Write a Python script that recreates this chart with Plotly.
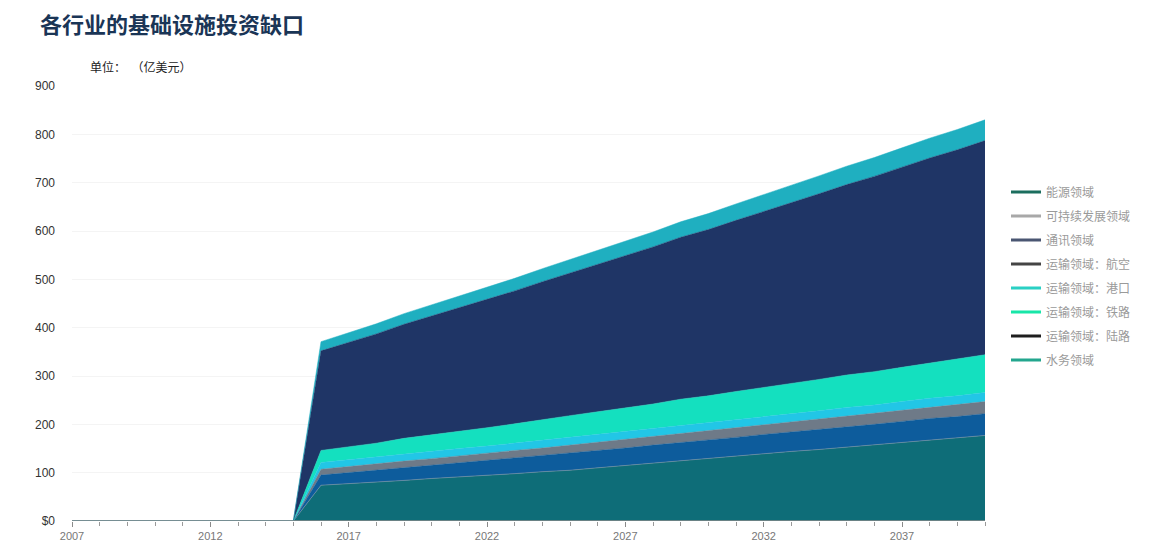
import plotly.graph_objects as go

years = list(range(2007, 2041))
zeros = [0] * 9  # 2007-2015

series_names = ["能源领域", "可持续发展领域", "通讯领域", "运输领域：航空",
                "运输领域：港口", "运输领域：铁路", "运输领域：陆路", "水务领域"]

energy = zeros + [74, 77, 81, 84, 88, 91, 95, 98, 102, 105, 110, 115, 120, 124, 129, 134, 139, 144, 148, 153, 158, 163, 168, 172, 177]
sustain = zeros + [0] * 25
telecom = zeros + [21, 23, 24, 26, 27, 29, 30, 32, 33, 35, 36, 36, 37, 38, 38, 39, 40, 40, 41, 42, 42, 43, 44, 44, 45]
airport = zeros + [12, 13, 13, 14, 14, 15, 15, 16, 16, 17, 17, 18, 18, 19, 19, 20, 20, 21, 21, 22, 22, 23, 23, 24, 25]
port = zeros + [14, 14, 14, 15, 15, 15, 15, 15, 16, 16, 16, 16, 16, 17, 17, 17, 17, 17, 18, 18, 18, 18, 19, 19, 19]
rail = zeros + [25, 27, 29, 32, 34, 36, 38, 40, 43, 45, 47, 49, 51, 54, 56, 58, 60, 62, 65, 67, 69, 71, 73, 76, 78]
road = zeros + [206, 216, 226, 236, 246, 255, 265, 275, 285, 295, 305, 315, 325, 335, 344, 354, 364, 374, 384, 394, 404, 414, 424, 433, 443]
water = zeros + [19, 20, 21, 22, 23, 24, 25, 26, 27, 28, 29, 30, 31, 32, 33, 34, 35, 36, 37, 38, 39, 40, 41, 42, 43]

y_tickvals = [0, 100, 200, 300, 400, 500, 600, 700, 800, 900]
y_ticktext = ["$0", "100", "200", "300", "400", "500", "600", "700", "800", "900"]

series_values = [energy, sustain, telecom, airport, port, rail, road, water]
fill_colors = ["#0e6d78", "#9aa0a8", "#0d5c9c", "#6e7a88", "#22c6e6", "#14e0bf", "#1f3566", "#1fafc0"]
legend_colors = ["#1b6e5e", "#a8a8a8", "#4a5672", "#444444", "#2ad0c4", "#18e6a8", "#1e1e1e", "#23a68e"]

W, H = 1158, 546  # page has an 8px body margin
L, R, T, B = 64, 181, 78, 31

fig = go.Figure()
for name, vals, fc in zip(series_names, series_values, fill_colors):
    fig.add_trace(go.Scatter(
        x=years, y=vals, name=name, stackgroup="one", mode="lines",
        line=dict(width=0.5, color=fc), fillcolor=fc, showlegend=False,
        hovertemplate="%{x}: %{y}<extra>" + name + "</extra>"))

# baseline line from 2007
fig.add_trace(go.Scatter(x=years, y=[0] * len(years), mode="lines",
                         line=dict(color="#8a8a8a", width=1.5), showlegend=False, hoverinfo="skip"))

for i, (name, lc) in enumerate(zip(series_names, legend_colors)):
    fig.add_trace(go.Scatter(
        x=[None], y=[None], mode="lines", name=name, legendgroup=f"g{i}",
        line=dict(color=lc, width=3)))

pw = W - L - R
ph = H - T - B

fig.update_layout(
    width=W, height=H,
    margin=dict(l=L, r=R, t=T, b=B),
    paper_bgcolor="white", plot_bgcolor="white",
    font=dict(family="Noto Sans CJK SC, Noto Sans, sans-serif", color="#333"),
    legend=dict(x=(1040 - 8 - L - 34) / pw, y=(515 - 170) / ph, xanchor="left", yanchor="top",
                traceorder="grouped", tracegroupgap=5,
                font=dict(size=12, color="#9a9a9a"), itemwidth=30),
    showlegend=True,
)

# title
fig.add_annotation(text="<b>各行业的基础设施投资缺口</b>", xref="paper", yref="paper",
                   x=(30 - L) / pw, y=(515 - 15) / ph, xanchor="left", yanchor="middle",
                   showarrow=False, font=dict(size=22, color="#1a3556", family="Noto Sans CJK SC"))

fig.add_annotation(text="单位：  （亿美元）", xref="paper", yref="paper",
                   x=(80 - L) / pw, y=(515 - 58) / ph, xanchor="left", yanchor="middle",
                   showarrow=False, font=dict(size=12, color="#222"))

fig.update_xaxes(range=[2007, 2040], tick0=2007, dtick=5, ticks="outside", ticklen=5,
                 tickcolor="#8a8a8a", showgrid=False, zeroline=False,
                 tickfont=dict(size=11, color="#777", family="Liberation Sans, Arial"), showline=False,
                 minor=dict(dtick=1, ticks="outside", ticklen=4, tickcolor="#9a9a9a"))
fig.update_yaxes(range=[0, 900], tickvals=y_tickvals, ticktext=y_ticktext,
                 showgrid=True, gridcolor="#f4f4f4", zeroline=False, showline=False,
                 tickfont=dict(size=12, color="#333", family="Liberation Sans, Arial"),
                 ticks="", ticklabelstandoff=16)

fig.write_html("out.html")
